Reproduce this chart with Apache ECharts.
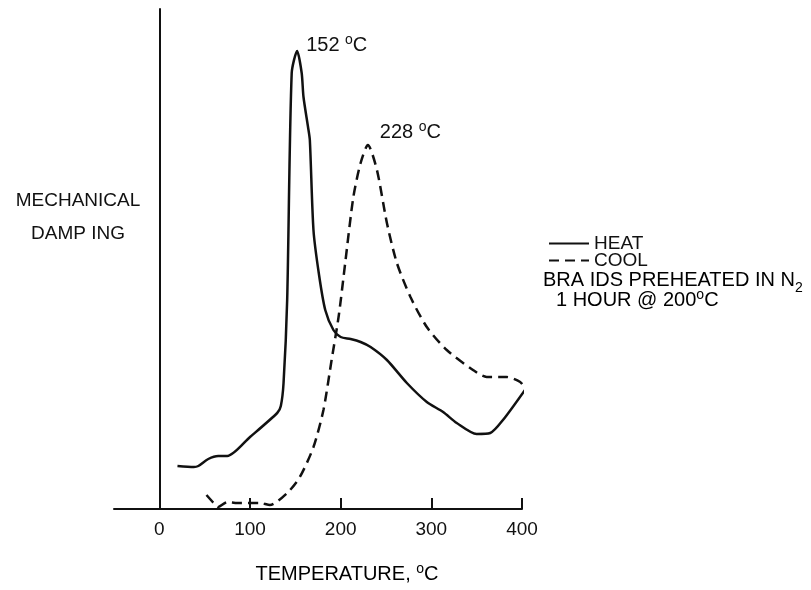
<!DOCTYPE html>
<html>
<head>
<meta charset="utf-8">
<script src="https://cdn.jsdelivr.net/npm/echarts@6/dist/echarts.min.js"></script>
<style>
  html, body { margin: 0; padding: 0; background: #fff; }
  #chart { width: 811px; height: 590px; }
</style>
</head>
<body>
<div id="chart"></div>
<script>
// temperature (deg C) / damping (arbitrary units)
const heatTemp = [20, 38, 43, 54, 65, 75, 100, 130, 134, 137, 141, 146, 152, 157, 159, 164, 166, 170, 176, 183, 192, 200, 211, 222, 233, 251, 273, 295, 313, 328, 350, 365, 379, 404]
const heatDamp = [43, 42, 43, 50, 53, 53, 72, 96, 103, 126, 209, 436, 458, 436, 412, 382, 369, 279, 235, 199, 179, 172, 170, 167, 162, 149, 126, 107, 97, 86, 75, 76, 89, 120]

const coolTemp = [52, 60, 65, 75, 86, 100, 111, 122, 141, 155, 170, 181, 190, 198, 205, 214, 222, 230, 240, 251, 262, 277, 295, 317, 346, 361, 383, 398, 404]
const coolDamp = [14, 6, 2, 7, 6, 6, 6, 4, 16, 32, 62, 99, 149, 194, 246, 312, 346, 364, 339, 286, 246, 212, 182, 159, 139, 132, 132, 127, 120]

const xTicks = [0, 100, 200, 300, 400]
const peaks = [
  { temp: 152, damp: 458, text: '152 ', offset: [4, -6] },
  { temp: 230, damp: 364, text: '228 ', offset: [7, -13] }
]

const font = '"Liberation Sans", sans-serif'
const rich = {
  m: { fontFamily: font, fontSize: 20, color: '#111', lineHeight: 24 },
  sup: { fontFamily: font, fontSize: 14, color: '#111', verticalAlign: 'top', lineHeight: 24 },
  sub: { fontFamily: font, fontSize: 14, color: '#111', verticalAlign: 'bottom', lineHeight: 30 }
}

const chart = echarts.init(document.getElementById('chart'))

chart.setOption({
  animation: false,
  backgroundColor: '#fff',
  grid: { left: 114, right: 289, top: 9, bottom: 81 },
  xAxis: {
    type: 'value',
    min: -50,
    max: 400,
    splitLine: { show: false },
    axisLine: { lineStyle: { color: '#111', width: 2 } },
    axisTick: {
      inside: true,
      length: 11,
      customValues: xTicks,
      lineStyle: { color: '#111', width: 2 }
    },
    axisLabel: {
      customValues: xTicks,
      margin: 11,
      fontFamily: font,
      fontSize: 19,
      color: '#111'
    }
  },
  yAxis: {
    type: 'value',
    min: 0,
    max: 500,
    splitLine: { show: false },
    axisLine: { show: true, onZero: true, lineStyle: { color: '#111', width: 2 } },
    axisTick: { show: false },
    axisLabel: { show: false }
  },
  legend: {
    orient: 'vertical',
    left: 543,
    top: 229,
    itemWidth: 40,
    itemHeight: 10,
    itemGap: -2,
    itemStyle: { opacity: 0 },
    textStyle: { fontFamily: font, fontSize: 19, color: '#111', lineHeight: 18 },
    data: ['HEAT', 'COOL']
  },
  series: [
    {
      name: 'HEAT',
      type: 'line',
      data: heatTemp.map((t, i) => [t, heatDamp[i]]),
      symbol: 'none',
      smooth: 0.25,
      clip: false,
      lineStyle: { color: '#111', width: 2.5 },
      itemStyle: { color: '#111' },
      markPoint: {
        symbolSize: 0,
        data: [{
          coord: [peaks[0].temp, peaks[0].damp],
          label: {
            show: true,
            position: 'right',
            offset: peaks[0].offset,
            formatter: '{m|' + peaks[0].text + '}{sup|o}{m|C}',
            rich: rich
          }
        }]
      }
    },
    {
      name: 'COOL',
      type: 'line',
      data: coolTemp.map((t, i) => [t, coolDamp[i]]),
      symbol: 'none',
      smooth: 0.25,
      clip: false,
      lineStyle: { color: '#111', width: 2.5, type: [10, 6] },
      itemStyle: { color: '#111' },
      markPoint: {
        symbolSize: 0,
        data: [{
          coord: [peaks[1].temp, peaks[1].damp],
          label: {
            show: true,
            position: 'right',
            offset: peaks[1].offset,
            formatter: '{m|' + peaks[1].text + '}{sup|o}{m|C}',
            rich: rich
          }
        }]
      }
    }
  ],
  graphic: [
    {
      type: 'text',
      style: {
        x: 78, y: 201, text: 'MECHANICAL', align: 'center', verticalAlign: 'middle',
        font: '19px ' + font, fill: '#111'
      }
    },
    {
      type: 'text',
      style: {
        x: 78, y: 234, text: 'DAMP ING', align: 'center', verticalAlign: 'middle',
        font: '19px ' + font, fill: '#111'
      }
    },
    {
      type: 'text',
      style: {
        x: 347, y: 574, align: 'center', verticalAlign: 'middle',
        text: '{m|TEMPERATURE, }{sup|o}{m|C}', rich: rich
      }
    },
    {
      type: 'text',
      style: {
        x: 543, y: 280, align: 'left', verticalAlign: 'middle',
        text: '{m|BRA IDS PREHEATED IN N}{sub|2}', rich: rich
      }
    },
    {
      type: 'text',
      style: {
        x: 556, y: 300, align: 'left', verticalAlign: 'middle',
        text: '{m|1 HOUR @ 200}{sup|o}{m|C}', rich: rich
      }
    }
  ]
})
</script>
</body>
</html>
